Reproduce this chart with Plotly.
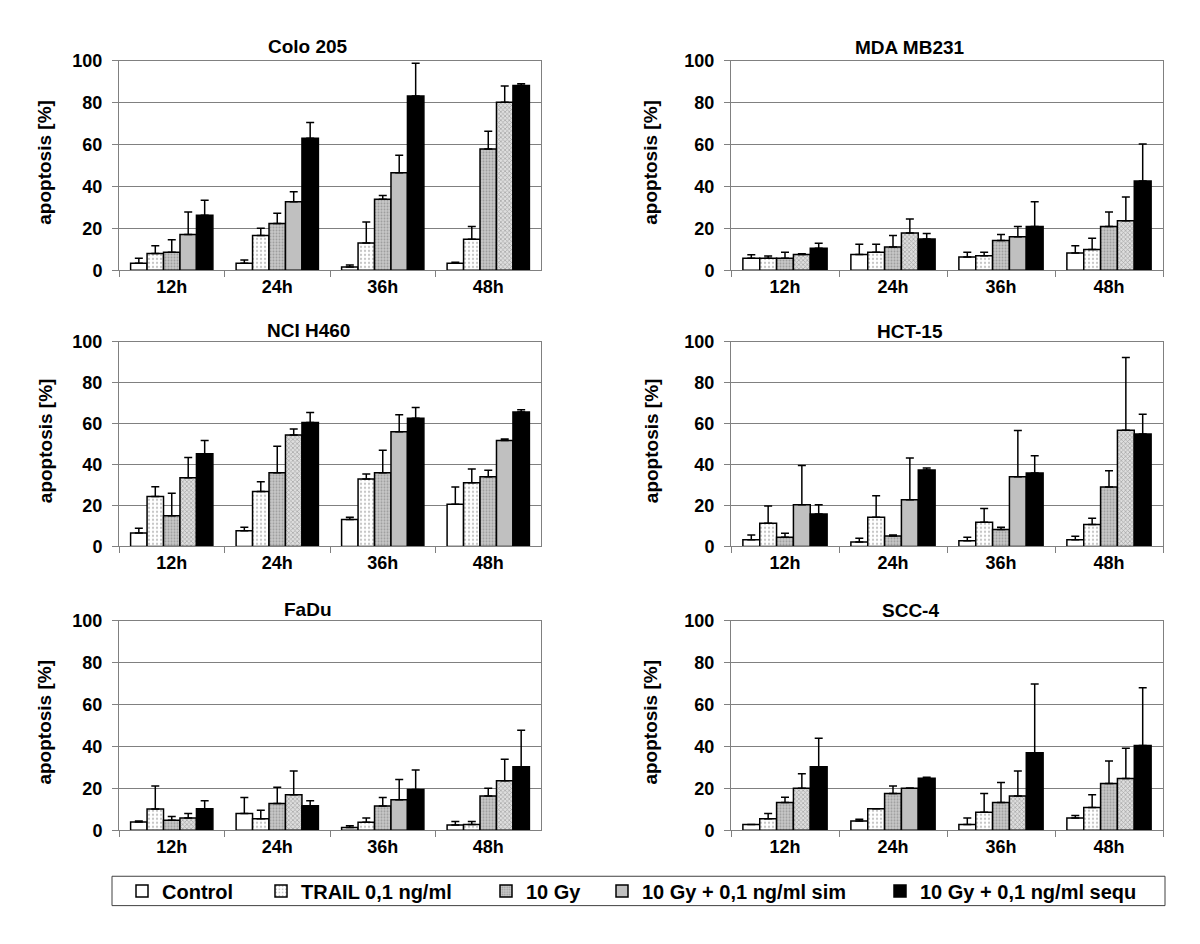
import plotly.graph_objects as go

# ---------------- data ----------------
TIMES = ["12h", "24h", "36h", "48h"]
SERIES = ["Control", "TRAIL 0,1 ng/ml", "10 Gy",
          "10 Gy + 0,1 ng/ml sim", "10 Gy + 0,1 ng/ml sequ"]

# rows = series (Control, TRAIL, 10 Gy, sim, sequ); columns = 12h, 24h, 36h, 48h
COLO205_MEAN = [[3.4, 3.4, 1.6, 3.4], [8.1, 16.7, 13.1, 14.8], [8.7, 22.4, 34.0, 57.9],
                [17.1, 32.7, 46.6, 80.2], [26.3, 63.1, 83.3, 88.3]]
COLO205_ERR = [[2.4, 1.6, 1.0, 0.5], [3.7, 3.4, 10.0, 6.1], [5.9, 4.9, 1.8, 8.5],
               [10.8, 4.8, 8.4, 7.8], [7.2, 7.5, 15.6, 0.8]]

MDA_MEAN = [[5.8, 7.6, 6.4, 8.3], [5.8, 8.7, 7.0, 10.0], [5.8, 11.1, 14.2, 21.0],
            [7.6, 17.8, 16.0, 23.7], [10.6, 15.0, 21.0, 42.7]]
MDA_ERR = [[1.7, 4.9, 2.3, 3.5], [1.1, 3.8, 1.7, 5.3], [2.8, 5.6, 2.9, 6.9],
           [0.3, 6.7, 5.0, 11.3], [2.3, 2.6, 11.7, 17.6]]

NCI_MEAN = [[6.5, 7.7, 13.2, 20.6], [24.4, 26.8, 33.0, 31.1], [15.0, 36.0, 36.0, 34.1],
            [33.5, 54.5, 56.1, 51.8], [45.3, 60.6, 62.7, 65.7]]
NCI_ERR = [[2.4, 1.7, 1.0, 8.4], [4.8, 4.8, 2.4, 6.7], [11.0, 13.0, 11.0, 3.1],
           [9.9, 2.9, 8.2, 0.7], [6.5, 4.8, 5.2, 1.1]]

HCT_MEAN = [[3.2, 2.1, 2.7, 3.2], [11.3, 14.2, 11.8, 10.7], [4.5, 5.1, 8.3, 29.0],
            [20.4, 22.8, 34.0, 56.8], [15.8, 37.3, 35.9, 55.0]]
HCT_ERR = [[2.4, 1.9, 1.8, 1.7], [8.5, 10.5, 6.7, 3.0], [1.9, 0.5, 1.1, 8.0],
           [19.2, 20.4, 22.6, 35.5], [4.6, 1.0, 8.4, 9.6]]

FADU_MEAN = [[3.9, 8.0, 1.3, 2.5], [10.2, 5.5, 3.8, 2.8], [4.8, 12.8, 11.6, 16.4],
             [5.9, 17.0, 14.5, 23.6], [10.3, 11.7, 19.5, 30.3]]
FADU_ERR = [[0.5, 7.6, 0.9, 1.7], [10.9, 4.0, 2.1, 1.4], [1.8, 7.7, 4.0, 3.6],
            [2.1, 11.3, 9.7, 10.3], [3.8, 2.4, 9.3, 17.4]]

SCC_MEAN = [[2.8, 4.4, 2.8, 5.9], [5.5, 10.3, 8.6, 10.8], [13.3, 17.5, 13.3, 22.3],
            [20.0, 20.0, 16.4, 24.7], [30.3, 24.8, 37.0, 40.5]]
SCC_ERR = [[0.0, 0.8, 3.0, 1.1], [2.5, 0.0, 8.9, 6.1], [2.5, 3.6, 9.5, 10.8],
           [7.0, 0.2, 11.9, 14.5], [13.6, 0.5, 32.8, 27.5]]

PANEL_TITLES = ["Colo 205", "MDA MB231", "NCI H460", "HCT-15", "FaDu", "SCC-4"]
PANEL_MEANS = [COLO205_MEAN, MDA_MEAN, NCI_MEAN, HCT_MEAN, FADU_MEAN, SCC_MEAN]
PANEL_ERRS = [COLO205_ERR, MDA_ERR, NCI_ERR, HCT_ERR, FADU_ERR, SCC_ERR]

# ---------------- styling / layout ----------------
W, H = 1200, 944
FONT = "Liberation Sans, Arial, Helvetica, sans-serif"
GRID = "#808080"

# texture of the "sim" bar in each panel ("x" = checkered, "" = plain grey)
SIM_TEXTURE = [["", "", "", "x"], ["x", "x", "", "x"], ["x", "x", "", ""],
               ["", "", "", "x"], ["x", "x", "", "x"], ["x", "", "x", "x"]]

# plot areas in pixels: (x0, x1, ytop, ybottom)
BOXES = [(119, 541, 52, 266), (731, 1163, 52, 266),
         (119, 541, 339, 548), (731, 1163, 339, 548),
         (119, 541, 624, 838), (731, 1163, 624, 838)]
TITLE_POS = [(308, 37), (910, 38), (308, 327), (910, 328), (308, 612), (910, 613)]
YTITLE_X = [45, 651, 45, 651, 45, 651]


def fx(px):
    return px / W


def fy(py):
    return 1 - py / H


def series_marker(k, panel):
    line = dict(color="black", width=1.5)
    if k == 0:
        return dict(color="white", line=line)
    if k == 1:
        return dict(color="white", line=line,
                    pattern=dict(shape=".", fgcolor="#8a8a8a", bgcolor="white",
                                 size=4, solidity=0.25))
    if k == 2:
        return dict(color="#c4c4c4", line=line,
                    pattern=dict(shape=".", fgcolor="#6e6e6e", bgcolor="#c8c8c8",
                                 size=3, solidity=0.35))
    if k == 3:
        return dict(color="#c0c0c0", line=line,
                    pattern=dict(shape=SIM_TEXTURE[panel], fgcolor="#6a6a6a",
                                 bgcolor="#dedede", size=3, solidity=0.4))
    return dict(color="black", line=line)


fig = go.Figure()
legend_names = ["legend", "legend2", "legend3", "legend4", "legend5"]

for p in range(6):
    n = "" if p == 0 else str(p + 1)
    for k in range(5):
        mean = PANEL_MEANS[p][k]
        err = PANEL_ERRS[p][k]
        fig.add_trace(go.Bar(
            x=TIMES, y=mean, name=SERIES[k],
            xaxis="x" + n, yaxis="y" + n,
            marker=series_marker(k, p),
            error_y=dict(type="data", symmetric=False, array=err,
                         arrayminus=[0] * len(err), color="black",
                         thickness=1.5, width=4),
            showlegend=(p == 0), legend=legend_names[k],
        ))

layout = dict(
    width=W, height=H, margin=dict(l=0, r=0, t=0, b=0),
    paper_bgcolor="white", plot_bgcolor="white",
    barmode="group", bargap=0.22, bargroupgap=0,
    font=dict(family=FONT, color="black", size=18, weight="bold"),
    annotations=[], shapes=[],
)

for p, (x0, x1, yt, yb) in enumerate(BOXES):
    n = "" if p == 0 else str(p + 1)
    layout["xaxis" + n] = dict(
        domain=[fx(x0), fx(x1)], anchor="y" + n, type="category",
        categoryorder="array", categoryarray=TIMES,
        tickson="boundaries", ticks="outside", ticklen=6, tickcolor=GRID,
        showline=True, linecolor=GRID, linewidth=1, mirror=True, showgrid=False,
        tickfont=dict(family=FONT, size=18, color="black", weight="bold"),
        fixedrange=True,
    )
    layout["yaxis" + n] = dict(
        domain=[fy(yb), fy(yt)], anchor="x" + n, range=[0, 100], dtick=20,
        showgrid=True, gridcolor=GRID, gridwidth=1, zeroline=False,
        ticks="outside", ticklen=6, tickcolor=GRID,
        showline=True, linecolor=GRID, linewidth=1, mirror=True,
        tickfont=dict(family=FONT, size=18, color="black", weight="bold"),
        ticklabelstandoff=6, fixedrange=True,
    )
    tx, ty = TITLE_POS[p]
    layout["annotations"].append(dict(
        text=PANEL_TITLES[p], x=fx(tx), y=fy(ty), xref="paper", yref="paper",
        xanchor="center", yanchor="middle", showarrow=False,
        font=dict(family=FONT, size=19, color="black", weight="bold")))
    layout["annotations"].append(dict(
        text="apoptosis [%]", x=fx(YTITLE_X[p]), y=fy((yt + yb) / 2 - 3),
        xref="paper", yref="paper", xanchor="center", yanchor="middle",
        textangle=-90, showarrow=False,
        font=dict(family=FONT, size=19, color="black", weight="bold")))

# legend frame
layout["shapes"].append(dict(type="rect", xref="paper", yref="paper",
                             x0=fx(112), x1=fx(1165), y0=fy(915), y1=fy(885),
                             line=dict(color="#404040", width=1), fillcolor="rgba(0,0,0,0)"))

LEG_SYMBOL_X = [142, 281, 506, 622, 900]
for k, name in enumerate(legend_names):
    layout[name] = dict(
        x=fx(LEG_SYMBOL_X[k] - 20), y=fy(900), xanchor="left", yanchor="middle",
        orientation="h", bgcolor="rgba(0,0,0,0)", borderwidth=0,
        itemwidth=30, itemclick=False, itemdoubleclick=False,
        font=dict(family=FONT, size=20, color="black", weight="bold"),
    )

fig.update_layout(**layout)
fig.write_html("out.html", config={"displayModeBar": False},
               post_script="document.body.style.margin='0';")
